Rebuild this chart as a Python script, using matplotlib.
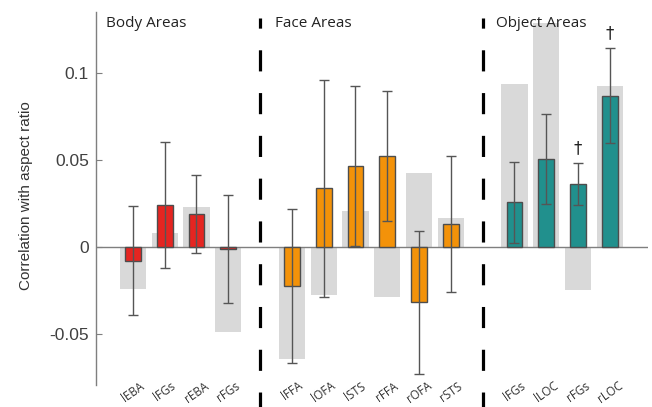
import matplotlib.pyplot as plt
import numpy as np

# Region labels and values
labels = ['lEBA', 'lFGs', 'rEBA', 'rFGs',
          'lFFA', 'lOFA', 'lSTS', 'rFFA', 'rOFA', 'rSTS',
          'lFGs', 'lLOC', 'rFGs', 'rLOC']
groups = ['body'] * 4 + ['face'] * 6 + ['object'] * 4

# correlation with aspect ratio (coloured bars)
corr = [-0.0079, 0.0243, 0.0191, -0.0010,
        -0.0224, 0.0339, 0.0467, 0.0527, -0.0316, 0.0134,
        0.0260, 0.0507, 0.0362, 0.0871]
# confidence interval ends
ci_low = [-0.0389, -0.0121, -0.0031, -0.0320,
          -0.0667, -0.0284, 0.0007, 0.0151, -0.0726, -0.0255,
          0.0023, 0.0251, 0.0241, 0.0598]
ci_high = [0.0237, 0.0603, 0.0417, 0.0302,
           0.0218, 0.0961, 0.0927, 0.0900, 0.0094, 0.0523,
           0.0492, 0.0764, 0.0483, 0.1147]
# grey background bars
control = [-0.0241, 0.0084, 0.0233, -0.0485,
           -0.0644, -0.0274, 0.0209, -0.0284, 0.0427, 0.0170,
           0.0937, 0.1290, -0.0245, 0.0927]
# regions marked with a dagger
dagger = ['', '', '', '',
          '', '', '', '', '', '',
          '', '', '\u2020', '\u2020']

group_names = ['Body Areas', 'Face Areas', 'Object Areas']
colours = {'body': '#e52521', 'face': '#f39209', 'object': '#21908d'}

# x positions: one empty slot between groups for the dashed separators
x = []
separators = []
pos = 0
prev = groups[0]
for g in groups:
    if g != prev:
        separators.append(pos)
        pos += 1
        prev = g
    x.append(pos)
    pos += 1
x = np.array(x)
title_x = [-0.85, 4.47, 11.42]

plt.rcParams['lines.scale_dashes'] = False
fig = plt.figure(figsize=(6.52, 4.07), dpi=100)
ax = fig.add_axes([0.1472, 0.0541, 0.8467, 0.9164])

corr = np.array(corr)
ci_low = np.array(ci_low)
ci_high = np.array(ci_high)

# Graphing
ax.bar(x, control, width=0.82, color='#d9d9d9', zorder=1)
ax.bar(x, corr, width=0.5, color=[colours[g] for g in groups],
       edgecolor='#4d4d4d', linewidth=1.0, zorder=2)
ax.errorbar(x, corr, yerr=[corr - ci_low, ci_high - corr], fmt='none',
            ecolor='#555555', elinewidth=1.0, capsize=3.6, capthick=1.0, zorder=3)
ax.axhline(0, color='#7f7f7f', linewidth=1.0, zorder=1.5)

for xi, yi, d in zip(x, ci_high, dagger):
    if d:
        ax.text(xi, yi + 0.0085, d, ha='center', va='center', fontsize=12,
                color='#222222', family='DejaVu Sans')

# dashed separators run past the bottom of the axes
for s in separators:
    ax.plot([s, s], [0.984, -0.07], transform=ax.get_xaxis_transform(),
            color='black', linewidth=2.3, linestyle=(7.9, (15.2, 15.6)),
            clip_on=False, zorder=4, dash_capstyle='butt')

for tx, name in zip(title_x, group_names):
    ax.text(tx, 0.961, name, transform=ax.get_xaxis_transform(),
            ha='left', va='baseline', fontsize=11, family='Open Sans', color='#222222')

ax.set_xlim(-1.16, 16.2)
ax.set_ylim(-0.0791, 0.1352)
ax.set_yticks([-0.05, 0, 0.05, 0.1])
ax.set_yticklabels(['-0.05', '0', '0.05', '0.1'], family='Liberation Sans', fontsize=12.5)
ax.tick_params(axis='y', direction='in', length=4, width=0.8, color='#7f7f7f',
               labelcolor='#404040', pad=5)
ax.set_xticks(x)
ax.set_xticklabels(labels, rotation=35, ha='center', family='Open Sans',
                   fontsize=8.5, color='#333333')
ax.tick_params(axis='x', length=0, pad=-4)

for side in ['top', 'right', 'bottom']:
    ax.spines[side].set_visible(False)
ax.spines['left'].set_color('#7f7f7f')
ax.spines['left'].set_linewidth(1.0)

ax.set_ylabel('Correlation with aspect ratio', family='Liberation Sans',
              fontsize=11, color='#333333')
ax.yaxis.set_label_coords(-0.114, 0.507)

fig.savefig('out.png', dpi=100)
